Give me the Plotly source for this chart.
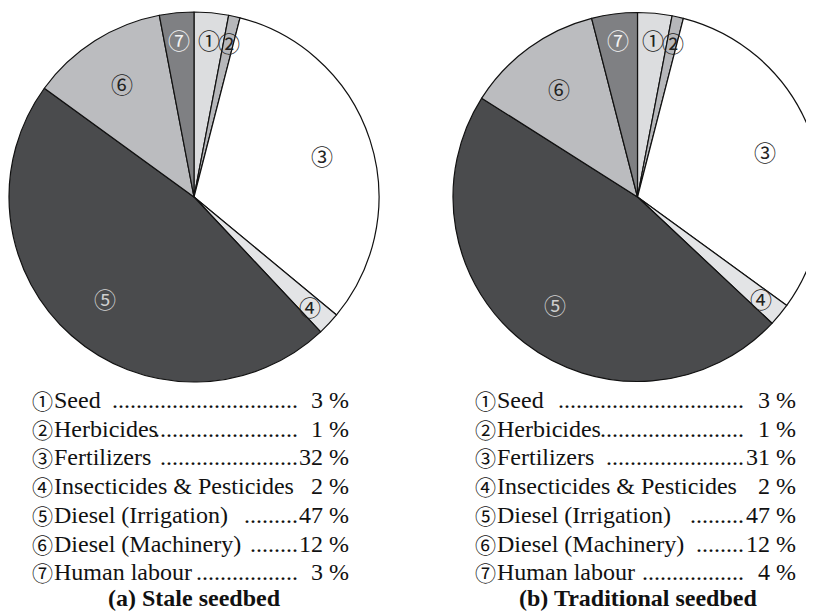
import math
import plotly.graph_objects as go

# ---- data ----
marks = ['①', '②', '③', '④', '⑤', '⑥', '⑦']
names = ['Seed', 'Herbicides', 'Fertilizers', 'Insecticides & Pesticides',
         'Diesel (Irrigation)', 'Diesel (Machinery)', 'Human labour']
stale = [3, 1, 32, 2, 47, 12, 3]
traditional = [3, 1, 31, 2, 47, 12, 4]
titles = ['(a) Stale seedbed', '(b) Traditional seedbed']
# number of leader dots printed on each legend row
n_dots = [31, 24, 23, 0, 9, 8, 17]

W, H = 814, 611
PAGE = 8  # the page body adds an 8px margin around the figure

slice_colors = ['#dcdddf', '#b6b7ba', '#ffffff', '#e3e4e6',
                '#4a4b4d', '#bbbcbf', '#7f8083']
label_colors = ['#222', '#222', '#222', '#222', '#d0d0d0', '#222', '#f4f4f4']


def px(x):
    return (x - PAGE) / W


def py(y):
    return (H - (y - PAGE)) / H


def note(x, y, text, size, family, color='#111', xanchor='center'):
    return dict(x=px(x), y=py(y), xref='paper', yref='paper',
                xanchor=xanchor, yanchor='middle', showarrow=False,
                text=text, font=dict(family=family, size=size, color=color))


# pie geometry in screen pixels: centre x, centre y, radius
pies = [(194, 197, 185, stale), (638, 197, 185, traditional)]

fig = go.Figure()
annotations = []

for cx, cy, r, vals in pies:
    fig.add_trace(go.Pie(
        values=vals,
        labels=names,
        sort=False,
        direction='clockwise',
        rotation=0,
        textinfo='none',
        marker=dict(colors=slice_colors, line=dict(color='#111', width=1.2)),
        domain=dict(x=[max(0, px(cx - r)), min(1, px(cx + r))],
                    y=[py(cy + r), py(cy - r)]),
        showlegend=False,
        hoverinfo='label+percent',
    ))
    # circled numbers inside slices
    cum = 0
    for i, v in enumerate(vals):
        ang = math.radians((cum + v / 2) / sum(vals) * 360)
        cum += v
        k = 0.86 if v < 5 else 0.73
        annotations.append(note(cx + k * r * math.sin(ang),
                                cy - k * r * math.cos(ang),
                                marks[i], 22, 'Noto Sans CJK JP', label_colors[i]))

# legend lists under each pie
row_y0, row_dy = 400, 28.7
lefts, dots_end, rights = [30, 473], [300, 746], [351, 798]
serif = 'Liberation Serif'
for p, (cx, cy, r, vals) in enumerate(pies):
    for i, v in enumerate(vals):
        y = row_y0 + i * row_dy
        annotations.append(note(lefts[p], y, marks[i], 21, 'Noto Sans CJK JP',
                                xanchor='left'))
        annotations.append(note(lefts[p] + 22, y, names[i], 24, serif,
                                xanchor='left'))
        if n_dots[i]:
            annotations.append(note(dots_end[p], y, '.' * n_dots[i], 24, serif,
                                    xanchor='right'))
        annotations.append(note(rights[p], y, f'{v} %', 24, serif,
                                xanchor='right'))
    annotations.append(note(cx, 598, f'<b>{titles[p]}</b>', 24, serif))

fig.update_layout(
    width=W, height=H,
    margin=dict(l=0, r=0, t=0, b=0),
    paper_bgcolor='white',
    plot_bgcolor='white',
    annotations=annotations,
)

fig.write_html("out.html")
